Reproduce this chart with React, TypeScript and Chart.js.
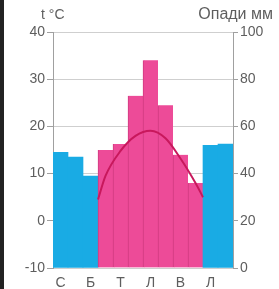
import React, { useEffect, useRef } from "react";
import { Chart, registerables } from "chart.js";

Chart.register(...registerables);

// ---- data ----
const monthLabels = ["С", "Л", "Б", "К", "Т", "Ч", "Л", "С", "В", "Ж", "Л", "Г"];
const precipitation = [49, 47, 39, 50, 52.5, 73, 88, 69, 48, 36, 52, 52.5];
const warmSeason = [false, false, false, true, true, true, true, true, true, true, false, false];
const tempPositions = [3, 3.5, 4.5, 5.5, 6.5, 7.5, 8.5, 9.5, 10];
const temperature = [4.5, 9.5, 14.8, 18, 19.1, 17.5, 13.2, 8, 5];
const tempTitle = "t °C";
const precipTitle = "Опади мм";

const FONT = "'Liberation Sans', Arial, sans-serif";
const BLUE = "#19abe4";
const PINK = "#ed4b98";
const PINK_EDGE = "#cf3a7e";
const CURVE = "#c8185c";
const TEXT = "#5e5e5e";

const titlesPlugin = {
  id: "titles",
  afterDraw(chart: any) {
    const { ctx, chartArea } = chart;
    ctx.save();
    ctx.fillStyle = TEXT;
    ctx.textBaseline = "alphabetic";
    ctx.textAlign = "left";
    ctx.font = `14px ${FONT}`;
    ctx.fillText(tempTitle, chartArea.left - 12, 19);
    ctx.textAlign = "right";
    ctx.font = `16px ${FONT}`;
    ctx.fillText(precipTitle, chartArea.right + 40, 19);
    ctx.restore();
  },
};

export default function App() {
  const ref = useRef<HTMLCanvasElement | null>(null);

  useEffect(() => {
    if (!ref.current) return;
    const chart = new Chart(ref.current, {
      type: "bar",
      data: {
        labels: monthLabels,
        datasets: [
          {
            type: "bar",
            data: precipitation,
            xAxisID: "x",
            yAxisID: "y2",
            backgroundColor: warmSeason.map((w) => (w ? PINK : BLUE)),
            borderColor: warmSeason.map((w) => (w ? PINK_EDGE : BLUE)),
            borderWidth: warmSeason.map((w) => (w ? { left: 1, right: 0, top: 0, bottom: 0 } : 0)) as any,
            borderSkipped: false,
            barPercentage: 1,
            categoryPercentage: 1,
            grouped: false,
            order: 1,
          } as any,
          {
            type: "line",
            data: tempPositions.map((x, i) => ({ x, y: temperature[i] })),
            xAxisID: "xt",
            yAxisID: "y",
            borderColor: CURVE,
            borderWidth: 2,
            pointRadius: 0,
            tension: 0.4,
            cubicInterpolationMode: "monotone",
            fill: false,
            order: 0,
          } as any,
        ],
      },
      options: {
        responsive: false,
        devicePixelRatio: 1,
        animation: false,
        datasets: { bar: { barPercentage: 1, categoryPercentage: 1, grouped: false } },
        layout: { padding: { top: 32, left: 0, right: 0, bottom: 0 } },
        plugins: { legend: { display: false }, tooltip: { enabled: false } },
        scales: {
          x: {
            type: "category",
            offset: true,
            grid: { display: false, drawTicks: false, offset: true },
            border: { display: false },
            ticks: {
              autoSkip: false,
              maxRotation: 0,
              color: TEXT,
              font: { family: FONT, size: 14 },
              padding: 7,
              callback: (_v: any, i: number) => (i % 2 === 0 ? monthLabels[i] : ""),
            },
            afterFit: (s: any) => {
              s.height = 21;
            },
          },
          xt: {
            type: "linear",
            min: 0,
            max: 12,
            offset: false,
            grid: { offset: false },
            display: false,
          },
          y: {
            position: "left",
            min: -10,
            max: 40,
            ticks: {
              stepSize: 10,
              color: TEXT,
              font: { family: FONT, size: 14 },
              padding: 2,
            },
            grid: { color: "#cfcfcf", tickLength: 6, tickColor: "#a0a0a0" },
            border: { color: "#a0a0a0" },
            afterFit: (s: any) => {
              s.width = 53;
            },
          },
          y2: {
            position: "right",
            min: 0,
            max: 100,
            ticks: {
              stepSize: 20,
              color: TEXT,
              font: { family: FONT, size: 14 },
              padding: 2,
            },
            grid: { drawOnChartArea: false, tickLength: 5, color: "#a0a0a0" },
            border: { color: "#a0a0a0" },
            afterFit: (s: any) => {
              s.width = 46;
            },
          },
        },
      } as any,
      plugins: [titlesPlugin],
    });
    return () => chart.destroy();
  }, []);

  return (
    <div
      style={{
        position: "fixed",
        left: 0,
        top: 0,
        width: 279,
        height: 289,
        background: "#fff",
      }}
    >
      <div style={{ position: "absolute", left: 0, top: 0, width: 4, height: 289, background: "#222" }} />
      <canvas ref={ref} width={279} height={289} style={{ position: "absolute", left: 0, top: 0 }} />
    </div>
  );
}
